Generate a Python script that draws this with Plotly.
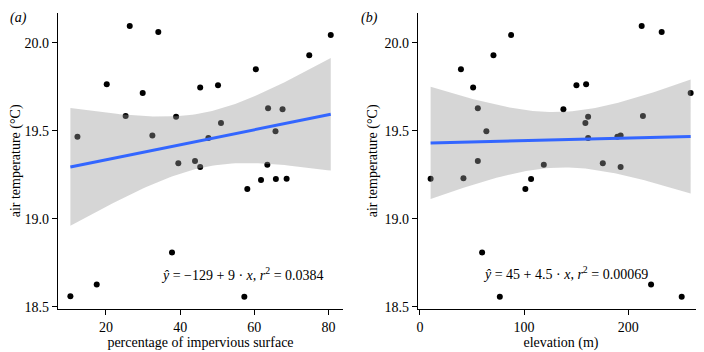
import numpy as np
import plotly.graph_objects as go

# ---- data ----
air_temp = [19.466, 20.097, 20.062, 20.045, 19.93, 19.85, 19.765, 19.76, 19.747, 19.716,
            19.629, 19.623, 19.584, 19.58, 19.545, 19.498, 19.474, 19.46, 19.328, 19.316,
            19.307, 19.295, 19.227, 19.226, 19.22, 19.169, 18.809, 18.627, 18.559, 18.557]
impervious = [12.3, 26.4, 34.1, 80.6, 74.8, 60.4, 20.2, 50.2, 45.4, 29.9,
              63.7, 67.6, 25.3, 38.9, 51.0, 65.7, 32.5, 47.6, 44.0, 39.5,
              63.5, 45.4, 68.7, 65.8, 61.8, 58.1, 37.8, 17.5, 10.4, 57.3]
temp_b = [19.466, 20.097, 20.062, 20.045, 19.93, 19.85, 19.765, 19.76, 19.747, 19.716,
          19.629, 19.623, 19.584, 19.58, 19.545, 19.498, 19.474, 19.46, 19.328, 19.316,
          19.307, 19.295, 19.227, 19.226, 19.231, 19.169, 18.809, 18.627, 18.557, 18.557]
elevation = [189.5, 212.8, 232.0, 87.5, 70.6, 39.4, 159.5, 150.2, 51.1, 259.8,
             55.6, 137.7, 214.0, 161.4, 158.8, 63.8, 192.6, 161.4, 55.6, 175.5,
             118.9, 192.6, 10.3, 106.7, 41.8, 101.2, 59.7, 221.8, 76.7, 251.2]

y_ticks = [18.5, 19.0, 19.5, 20.0]
y_ticklabels = ["18.5", "19.0", "19.5", "20.0"]
xa_ticks = [20, 40, 60, 80]
xb_ticks = [0, 100, 200]

eq_a = "<i>ŷ</i> = −129 + 9 · <i>x</i>, <i>r</i><sup>2</sup> = 0.0384"
eq_b = "<i>ŷ</i> = 45 + 4.5 · <i>x</i>, <i>r</i><sup>2</sup> = 0.00069"

T975 = 2.048  # t quantile, df = 28


def lm_band(x, y, n_out=80):
    x = np.asarray(x, float)
    y = np.asarray(y, float)
    n = len(x)
    b1, b0 = np.polyfit(x, y, 1)
    resid = y - (b0 + b1 * x)
    s = np.sqrt(np.sum(resid ** 2) / (n - 2))
    xbar = x.mean()
    sxx = np.sum((x - xbar) ** 2)
    xs = np.linspace(x.min(), x.max(), n_out)
    fit = b0 + b1 * xs
    se = s * np.sqrt(1.0 / n + (xs - xbar) ** 2 / sxx)
    return xs, fit, fit - T975 * se, fit + T975 * se


FONT = "Liberation Serif"
W, H = 704, 352
OFF = 8  # page body margin: figure origin sits at (8, 8) in the window


def px(v):
    return (v - OFF) / W


def py(v):
    return 1 - (v - OFF) / H


fig = go.Figure()

panels = [
    (impervious, air_temp, "x", "y"),
    (elevation, temp_b, "x2", "y2"),
]
for xv, yv, xa, ya in panels:
    fig.add_trace(go.Scatter(x=xv, y=yv, mode="markers", xaxis=xa, yaxis=ya,
                             marker=dict(color="black", size=6), showlegend=False,
                             hoverinfo="x+y"))
    xs, fit, lo, hi = lm_band(xv, yv)
    fig.add_trace(go.Scatter(x=list(xs) + list(xs[::-1]), y=list(hi) + list(lo[::-1]),
                             mode="lines", fill="toself", xaxis=xa, yaxis=ya,
                             fillcolor="rgba(153,153,153,0.4)", line=dict(width=0),
                             showlegend=False, hoverinfo="skip"))
    fig.add_trace(go.Scatter(x=xs, y=fit, mode="lines", xaxis=xa, yaxis=ya,
                             line=dict(color="#3366FF", width=3), showlegend=False))

ax_common = dict(showgrid=False, zeroline=False, showline=True, linecolor="black",
                 linewidth=1.3, ticks="outside", ticklen=5, tickwidth=1.2,
                 automargin=False,
                 tickcolor="black", tickfont=dict(family=FONT, size=14, color="black"))
y_dom = [py(309), py(12.7)]

fig.update_layout(
    width=W, height=H, margin=dict(l=0, r=0, t=0, b=0),
    paper_bgcolor="white", plot_bgcolor="white",
    font=dict(family=FONT, size=14, color="black"),
    xaxis=dict(domain=[px(58), px(343)], range=[7.06, 83.9], tickvals=xa_ticks,
               title=dict(text="percentage of impervious surface", standoff=2,
                          font=dict(family=FONT, size=14)), anchor="y", **ax_common),
    yaxis=dict(domain=y_dom, range=[18.487, 20.172], tickvals=y_ticks,
               ticktext=y_ticklabels, anchor="x",
               title=dict(text="air temperature (°C)", standoff=3,
                          font=dict(family=FONT, size=14)), **ax_common),
    xaxis2=dict(domain=[px(418), px(704)], range=[-1.8, 272.6], tickvals=xb_ticks,
                title=dict(text="elevation (m)", standoff=2,
                           font=dict(family=FONT, size=14)), anchor="y2", **ax_common),
    yaxis2=dict(domain=y_dom, range=[18.487, 20.172], tickvals=y_ticks,
                ticktext=y_ticklabels, anchor="x2",
                title=dict(text="air temperature (°C)", standoff=3,
                           font=dict(family=FONT, size=14)), **ax_common),
    annotations=[
        dict(text="<i>(a)</i>", x=px(8), y=py(8), xref="paper", yref="paper",
             xanchor="left", yanchor="top", showarrow=False,
             font=dict(family=FONT, size=14)),
        dict(text="<i>(b)</i>", x=px(359), y=py(8), xref="paper", yref="paper",
             xanchor="left", yanchor="top", showarrow=False,
             font=dict(family=FONT, size=14)),
        dict(text=eq_a, x=px(242.5), y=py(274), xref="paper", yref="paper",
             xanchor="center", yanchor="middle", showarrow=False,
             font=dict(family=FONT, size=14)),
        dict(text=eq_b, x=px(565), y=py(273), xref="paper", yref="paper",
             xanchor="center", yanchor="middle", showarrow=False,
             font=dict(family=FONT, size=14)),
    ],
)

fig.write_html("out.html")
